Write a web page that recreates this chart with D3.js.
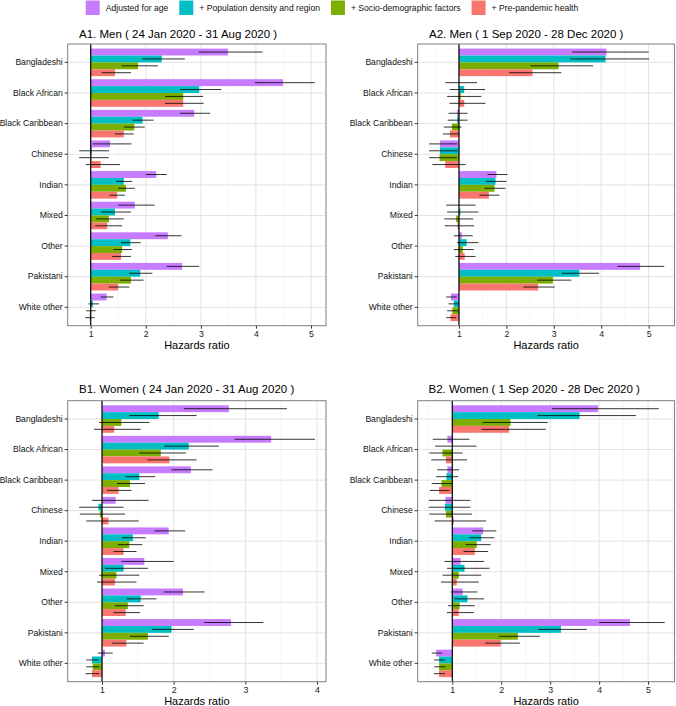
<!DOCTYPE html>
<html><head><meta charset="utf-8">
<script src="https://cdn.jsdelivr.net/npm/d3@7"></script>
<style>
body{margin:0;background:#fff;}
svg{display:block;font-family:"Liberation Sans",Arial,sans-serif;}
</style></head>
<body><svg id="chart" width="676" height="706"></svg>
<script>
const categories = ["Bangladeshi","Black African","Black Caribbean","Chinese","Indian","Mixed","Other","Pakistani","White other"];
const seriesNames = ["Adjusted for age","+ Population density and region","+ Socio-demographic factors","+ Pre-pandemic health"];
const seriesColors = ["#C77CFF","#00BFC4","#7CAE00","#F8766D"];
const panelTitles = ["A1. Men ( 24 Jan 2020 - 31 Aug 2020 )","A2. Men ( 1 Sep 2020 - 28 Dec 2020 )","B1. Women ( 24 Jan 2020 - 31 Aug 2020 )","B2. Women ( 1 Sep 2020 - 28 Dec 2020 )"];
const xLabel = "Hazards ratio";

// A1 Men, first period
const a1HR = [
  [3.49,4.49,2.88,1.35,2.19,1.80,2.40,2.66,1.29],
  [2.29,2.97,1.94,1.02,1.60,1.44,1.72,1.90,1.04],
  [1.86,2.68,1.79,1.01,1.64,1.33,1.57,1.73,0.99],
  [1.44,2.68,1.60,1.18,1.48,1.30,1.55,1.50,0.98]];
const a1Lo = [
  [2.96,3.98,2.62,1.04,2.00,1.50,2.17,2.38,1.18],
  [1.93,2.62,1.76,0.79,1.46,1.19,1.55,1.70,0.96],
  [1.56,2.35,1.61,0.79,1.50,1.10,1.41,1.53,0.92],
  [1.20,2.35,1.44,0.91,1.34,1.08,1.39,1.33,0.90]];
const a1Hi = [
  [4.12,5.07,3.17,1.74,2.38,2.16,2.65,2.97,1.41],
  [2.71,3.37,2.14,1.33,1.75,1.73,1.91,2.12,1.15],
  [2.22,3.04,1.98,1.33,1.80,1.60,1.75,1.96,1.09],
  [1.73,3.05,1.78,1.53,1.62,1.57,1.73,1.70,1.07]];

// A2 Men, second period
const a2HR = [
  [4.11,1.00,0.96,0.60,1.79,1.00,1.06,4.82,0.83],
  [4.09,1.11,0.96,0.60,1.77,1.03,1.16,3.54,0.89],
  [3.10,1.04,0.85,0.59,1.75,0.94,1.08,2.98,0.86],
  [2.55,1.11,0.81,0.71,1.63,0.97,1.12,2.67,0.82]];
const a2Lo = [
  [3.38,0.71,0.78,0.37,1.60,0.73,0.89,4.34,0.73],
  [3.34,0.80,0.76,0.37,1.57,0.75,0.96,3.17,0.78],
  [2.51,0.75,0.68,0.37,1.54,0.69,0.89,2.65,0.75],
  [2.06,0.80,0.66,0.44,1.43,0.70,0.92,2.36,0.73]];
const a2Hi = [
  [5.00,1.38,1.18,0.96,2.02,1.35,1.29,5.33,0.95],
  [5.01,1.55,1.18,0.97,2.00,1.41,1.41,3.95,1.00],
  [3.83,1.47,1.05,0.95,1.98,1.30,1.31,3.37,0.98],
  [3.16,1.56,1.00,1.14,1.85,1.32,1.35,3.02,0.94]];

// B1 Women, first period
const b1HR = [
  [2.77,3.36,2.24,1.19,1.93,1.59,2.13,2.80,1.04],
  [1.79,2.21,1.52,0.95,1.43,1.30,1.54,1.97,0.86],
  [1.27,1.82,1.39,0.97,1.38,1.20,1.36,1.64,0.87],
  [1.17,1.94,1.23,1.09,1.30,1.18,1.33,1.34,0.86]];
const b1Lo = [
  [2.14,2.85,1.97,0.86,1.73,1.27,1.86,2.42,0.94],
  [1.38,1.87,1.33,0.68,1.28,1.04,1.34,1.70,0.78],
  [0.96,1.52,1.21,0.69,1.22,0.96,1.18,1.39,0.78],
  [0.89,1.63,1.07,0.78,1.16,0.93,1.16,1.14,0.77]];
const b1Hi = [
  [3.58,3.97,2.54,1.65,2.16,2.00,2.43,3.25,1.15],
  [2.32,2.63,1.74,1.30,1.61,1.64,1.76,2.28,0.95],
  [1.66,2.17,1.60,1.32,1.56,1.52,1.58,1.93,0.96],
  [1.54,2.32,1.41,1.51,1.48,1.48,1.53,1.58,0.96]];

// B2 Women, second period
const b2HR = [
  [3.98,0.90,0.90,0.86,1.63,1.17,1.21,4.63,0.67],
  [3.60,1.00,0.88,0.85,1.59,1.25,1.31,3.22,0.73],
  [2.19,0.80,0.78,0.87,1.50,1.13,1.15,2.34,0.73],
  [2.16,0.87,0.73,1.03,1.46,1.09,1.13,1.99,0.73]];
const b2Lo = [
  [3.04,0.60,0.69,0.52,1.41,0.84,0.97,4.00,0.58],
  [2.74,0.65,0.67,0.52,1.35,0.89,1.05,2.76,0.63],
  [1.62,0.53,0.58,0.53,1.27,0.80,0.91,1.95,0.63],
  [1.60,0.57,0.54,0.64,1.23,0.77,0.89,1.67,0.62]];
const b2Hi = [
  [5.22,1.35,1.14,1.37,1.90,1.65,1.51,5.34,0.79],
  [4.75,1.49,1.12,1.37,1.86,1.76,1.65,3.75,0.85],
  [2.95,1.21,1.00,1.40,1.78,1.59,1.46,2.79,0.86],
  [2.91,1.30,0.94,1.69,1.73,1.54,1.44,2.38,0.85]];

const xTicks = [[1,2,3,4,5],[1,2,3,4,5],[1,2,3,4],[1,2,3,4,5]];

const svg = d3.select("#chart");

const panels = [
  {title:panelTitles[0], hr:a1HR, lo:a1Lo, hi:a1Hi, dom:[0.582,5.272], ticks:xTicks[0], L:67.7, R:326, T:44, B:325.7, tx:79, ty:37.5},
  {title:panelTitles[1], hr:a2HR, lo:a2Lo, hi:a2Hi, dom:[0.129,5.546], ticks:xTicks[1], L:417.7, R:674.5, T:44, B:325.7, tx:429, ty:37.5},
  {title:panelTitles[2], hr:b1HR, lo:b1Lo, hi:b1Hi, dom:[0.521,4.125], ticks:xTicks[2], L:67.7, R:326, T:400.7, B:681.7, tx:79, ty:392.5},
  {title:panelTitles[3], hr:b2HR, lo:b2Lo, hi:b2Hi, dom:[0.293,5.54], ticks:xTicks[3], L:417.7, R:674.5, T:400.7, B:681.7, tx:428.5, ty:392.5}
];

panels.forEach(p => {
  const g = svg.append("g");
  const x = d3.scaleLinear().domain(p.dom).range([p.L, p.R]);
  const y = d3.scaleBand().domain(categories).range([p.T, p.B]).paddingInner(0.1).paddingOuter(0.15);
  const ys = d3.scaleBand().domain(d3.range(4)).range([0, y.bandwidth()]);

  g.append("rect").attr("x",p.L).attr("y",p.T).attr("width",p.R-p.L).attr("height",p.B-p.T).attr("fill","#fff");
  const minor = d3.range(0.5, 6, 1).filter(v => v>p.dom[0] && v<p.dom[1]);
  g.selectAll(".mn").data(minor).join("line")
    .attr("x1",d=>x(d)).attr("x2",d=>x(d)).attr("y1",p.T).attr("y2",p.B)
    .attr("stroke","#f2f2f2").attr("stroke-width",0.6);
  g.selectAll(".mj").data(p.ticks).join("line")
    .attr("x1",d=>x(d)).attr("x2",d=>x(d)).attr("y1",p.T).attr("y2",p.B)
    .attr("stroke","#e3e3e3").attr("stroke-width",1);
  g.selectAll(".my").data(categories).join("line")
    .attr("x1",p.L).attr("x2",p.R).attr("y1",d=>y(d)+y.bandwidth()/2).attr("y2",d=>y(d)+y.bandwidth()/2)
    .attr("stroke","#e3e3e3").attr("stroke-width",1);

  for (let s=0; s<4; s++) {
    g.selectAll(".b"+s).data(categories).join("rect")
      .attr("x",(d,i)=>Math.min(x(1),x(p.hr[s][i])))
      .attr("width",(d,i)=>Math.abs(x(p.hr[s][i])-x(1)))
      .attr("y",d=>y(d)+ys(s))
      .attr("height",ys.bandwidth())
      .attr("fill",seriesColors[s]);
  }
  for (let s=0; s<4; s++) {
    g.selectAll(".e"+s).data(categories).join("line")
      .attr("x1",(d,i)=>x(p.lo[s][i])).attr("x2",(d,i)=>x(p.hi[s][i]))
      .attr("y1",d=>y(d)+ys(s)+ys.bandwidth()/2).attr("y2",d=>y(d)+ys(s)+ys.bandwidth()/2)
      .attr("stroke","#000").attr("stroke-opacity",0.8).attr("stroke-width",1);
  }
  g.append("line").attr("x1",x(1)).attr("x2",x(1)).attr("y1",p.T).attr("y2",p.B)
    .attr("stroke","#000").attr("stroke-width",1.2);

  g.append("rect").attr("x",p.L).attr("y",p.T).attr("width",p.R-p.L).attr("height",p.B-p.T)
    .attr("fill","none").attr("stroke","#7f7f7f").attr("stroke-width",1);

  const xa = g.append("g").attr("transform",`translate(0,${p.B})`)
    .call(d3.axisBottom(x).tickValues(p.ticks).tickFormat(d3.format("d")).tickSize(3).tickPadding(2));
  xa.select(".domain").remove();
  xa.selectAll("line").attr("stroke","#333");
  xa.selectAll("text").attr("font-size","8.8px").attr("fill","#222").style("font-family","Liberation Sans, Arial, sans-serif");

  const ya = g.append("g").attr("transform",`translate(${p.L},0)`)
    .call(d3.axisLeft(y).tickSize(3).tickPadding(2));
  ya.select(".domain").remove();
  ya.selectAll("line").attr("stroke","#333");
  ya.selectAll("text").attr("font-size","8.6px").attr("fill","#111").style("font-family","Liberation Sans, Arial, sans-serif");

  g.append("text").attr("x",p.tx).attr("y",p.ty).attr("font-size","11.5px").attr("fill","#000").text(p.title);
  g.append("text").attr("x",(p.L+p.R)/2).attr("y",p.B+23.3).attr("text-anchor","middle")
    .attr("font-size","11px").attr("fill","#000").text(xLabel);
});

const leg = svg.append("g");
const items = [];
seriesNames.forEach((n,i) => {
  const it = leg.append("g");
  it.append("rect").attr("x",0).attr("y",0.5).attr("width",14).attr("height",14.5).attr("fill",seriesColors[i]);
  const t = it.append("text").attr("x",20).attr("y",10.8).attr("font-size","8.6px").attr("fill","#111").text(n);
  const w = 20 + t.node().getComputedTextLength();
  items.push({it,w});
});
let total = d3.sum(items, d=>d.w) + 11*(items.length-1);
let start = 332 - total/2;
items.forEach(d => { d.it.attr("transform",`translate(${start},0)`); start += d.w + 11; });
</script>
</body></html>
